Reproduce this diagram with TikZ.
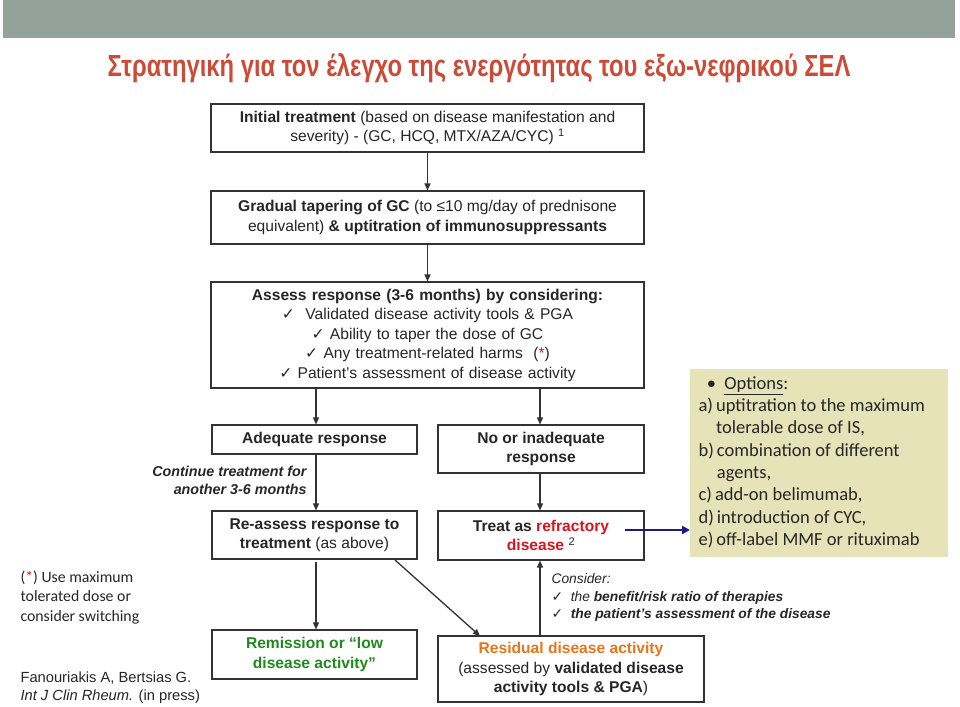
\documentclass[tikz,border=0pt]{standalone}
\usepackage{fontspec}
\setmainfont{Liberation Sans}
\newfontfamily\calib{Carlito}
\newfontfamily\djvfont{DejaVu Sans}
\newfontfamily\titlef[FakeStretch=0.78]{Liberation Sans}
\newcommand{\ck}{{\djvfont ✓}}
\usetikzlibrary{arrows.meta}
\definecolor{band}{HTML}{93A39A}
\definecolor{titred}{HTML}{CC4B37}
\definecolor{optbg}{HTML}{E6E3B8}
\definecolor{gr}{HTML}{1E8A1E}
\definecolor{orng}{HTML}{E8751A}
\definecolor{rd}{HTML}{D9141E}
\definecolor{dblue}{HTML}{1A1A8C}
\begin{document}
\begin{tikzpicture}[x=1pt,y=-1pt,
  bx/.style={draw=black!80,line width=1.1pt,align=center,inner sep=2pt,font=\fontsize{15.6}{19.5}\selectfont,text=black!85},
  arr/.style={-{Triangle[length=7pt,width=6pt]},line width=1.3pt,black!80}]
\useasboundingbox (0,0) rectangle (960,706);
\fill[white] (0,0) rectangle (960,706);
\fill[band] (3,0) rectangle (955,38);
\node[text=titred,font=\titlef\bfseries\fontsize{30.5}{33}\selectfont] (title) at (479,68) {Στρατηγική για τον έλεγχο της ενεργότητας του εξω-νεφρικού ΣΕΛ};
\node[bx,minimum width=433pt,minimum height=48pt] (init) at (427.5,128) {\textbf{Initial treatment} (based on disease manifestation and\\severity) - (GC, HCQ, MTX/AZA/CYC) \textsuperscript{1}};
\node[bx,minimum width=433pt,minimum height=53pt] (grad) at (427.5,217.5) {\textbf{Gradual tapering of GC} (to ≤10 mg/day of prednisone\\equivalent) \textbf{\& uptitration of immunosuppressants}};
\node[bx,minimum width=433pt,minimum height=106pt,text width=425pt,align=center] (assess) at (427.5,335) {\textbf{Assess response (3-6 months) by considering:}\\\ck\ \ Validated disease activity tools \& PGA\\\ck\ Ability to taper the dose of GC\\\ck\ Any treatment-related harms\ \ (\textcolor{rd}{*})\\\ck\ Patient’s assessment of disease activity};
\node[bx,minimum width=205pt,minimum height=29pt] (adeq) at (314.5,439.5) {\textbf{Adequate response}};
\node[bx,minimum width=206pt,minimum height=48pt] (noadeq) at (541,449) {\textbf{No or inadequate}\\\textbf{response}};
\node[bx,minimum width=205pt,minimum height=48pt] (reas) at (314.5,535) {\textbf{Re-assess response to}\\\textbf{treatment} (as above)};
\node[bx,minimum width=206pt,minimum height=49pt] (treat) at (541,535.5) {\textbf{Treat as \textcolor{rd}{refractory}}\\\textbf{\textcolor{rd}{disease}} \textsuperscript{2}};
\node[bx,minimum width=205pt,minimum height=49pt,text=gr] (remis) at (314.5,654.5) {\textbf{Remission or “low}\\\textbf{disease activity”}};
\node[bx,minimum width=266pt,minimum height=66pt] (resid) at (571,669) {\textbf{\textcolor{orng}{Residual disease activity}}\\(assessed by \textbf{validated disease}\\\textbf{activity tools \& PGA})};
\node[fill=optbg,minimum width=258pt,minimum height=188pt,anchor=north west,inner sep=0pt] (opt) at (690,369) {};
\node[anchor=north west,align=left,font=\calib\fontsize{18.5}{22.3}\selectfont,text=black!85] (opttxt) at (695,373) {\ \ • \ \underline{Options}:\\a)\,uptitration to the maximum\\\phantom{a)\,}tolerable dose of IS,\\b)\,combination of different\\\phantom{b)\,}agents,\\c)\,add-on belimumab,\\d)\,introduction of CYC,\\e)\,off-label MMF or rituximab};
\node[anchor=east,align=right,font=\itshape\bfseries\fontsize{14.3}{18}\selectfont,text=black!85] (cont) at (310,480) {Continue treatment for\\another 3-6 months};
\node[anchor=north west,align=left,font=\itshape\fontsize{13.8}{17.5}\selectfont,text=black!85] (cons) at (548,570) {Consider:\\\ck\ \ the \textbf{benefit/risk ratio of therapies}\\\ck\ \ \textbf{the patient’s assessment of the disease}};
\node[anchor=north west,align=left,font=\calib\fontsize{15.8}{19.5}\selectfont,text=black!85] (note) at (17,567) {(\textcolor{rd}{*}) Use maximum\\tolerated dose or\\consider switching};
\node[anchor=north west,align=left,font=\fontsize{14.7}{18}\selectfont,text=black!85] (ref) at (17,668) {Fanouriakis A, Bertsias G.\\\textit{Int J Clin Rheum.} (in press)};
\draw[arr] (init.south) -- (grad.north);
\draw[arr] (grad.south) -- (assess.north);
\draw[arr] (316,388) -- (adeq.north -| 316,0);
\draw[arr] (540,388) -- (noadeq.north -| 540,0);
\draw[arr] (adeq.south -| 316,0) -- (reas.north -| 316,0);
\draw[arr] (noadeq.south -| 540,0) -- (treat.north -| 540,0);
\draw[arr] (316,562) -- (remis.north -| 316,0);
\draw[arr] (395,560) -- (480,636);
\draw[arr] (resid.north -| 540,0) -- (treat.south -| 540,0);
\draw[-{Triangle[length=8pt,width=8pt]},line width=2pt,dblue] (625,530) -- (opt.west |- 0,530);
\end{tikzpicture}
\end{document}
